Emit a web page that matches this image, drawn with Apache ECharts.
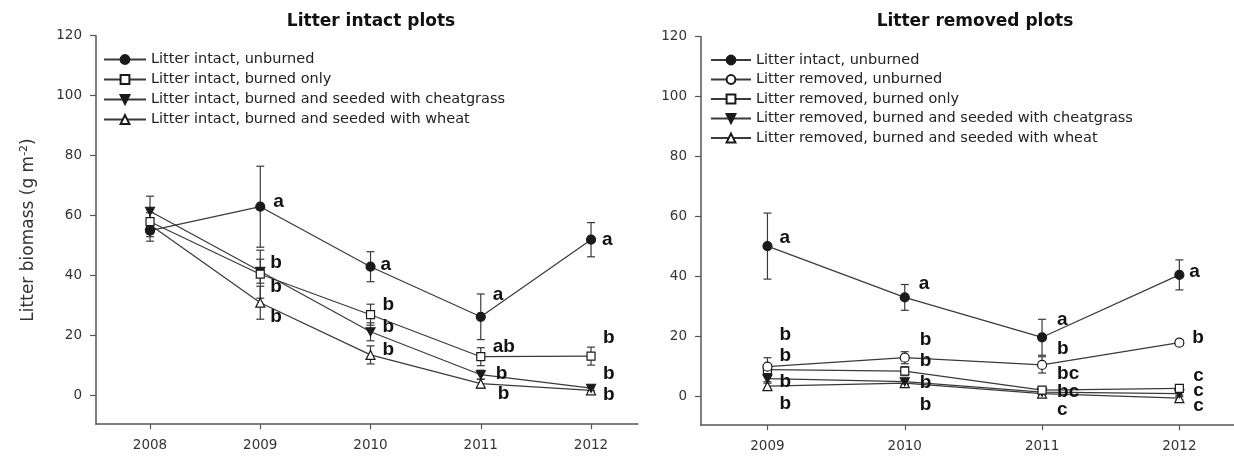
<!DOCTYPE html>
<html>
<head>
<meta charset="utf-8">
<script src="https://cdn.jsdelivr.net/npm/echarts@6/dist/echarts.min.js"></script>
<style>
  html, body { margin: 0; padding: 0; background: #fff; }
  #chart { width: 1234px; height: 463px; }
</style>
</head>
<body>
<div id="chart"></div>
<script>
// ---- Data -------------------------------------------------------------
// Litter intact plots (2008-2012)
const yearsIntact = [2008, 2009, 2010, 2011, 2012];
const intactUnburned    = [55, 63, 43, 26.3, 52];
const intactUnburnedSE  = [3.5, 13.5, 5, 7.6, 5.7];
const intactBurned      = [58, 40.5, 27, 13, 13.2];
const intactBurnedSE    = [4, 8, 3.5, 3, 3];
const intactCheat       = [61.5, 41.5, 21.3, 7, 2.5];
const intactCheatSE     = [5, 4, 3, 1.5, 0.8];
const intactWheat       = [57, 31, 13.6, 4, 1.8];
const intactWheatSE     = [4, 5.5, 3, 1.5, 0.8];
const intactUnburnedSig = ['', 'a', 'a', 'a', 'a'];
const intactBurnedSig   = ['', 'b', 'b', 'ab', 'b'];
const intactCheatSig    = ['', 'b', 'b', 'b', 'b'];
const intactWheatSig    = ['', 'b', 'b', 'b', 'b'];

// Litter removed plots (2009-2012)
const yearsRemoved = [2009, 2010, 2011, 2012];
const refUnburned       = [50.2, 33.1, 19.8, 40.6];
const refUnburnedSE     = [11, 4.3, 6, 5];
const remUnburned       = [10, 13, 10.6, 18];
const remUnburnedSE     = [3, 2, 2.7, 1];
const remBurned         = [9, 8.5, 2.2, 2.8];
const remBurnedSE       = [1.5, 1.5, 1, 1];
const remCheat          = [6, 5, 1.5, 1];
const remCheatSE        = [1, 1, 0.5, 0.5];
const remWheat          = [3.5, 4.5, 1, -0.5];
const remWheatSE        = [1, 1, 0.5, 0.5];
const refUnburnedSig    = ['a', 'a', 'a', 'a'];
const remUnburnedSig    = ['b', 'b', 'b', 'b'];
const remBurnedSig      = ['b', 'b', 'bc', 'c'];
const remCheatSig       = ['b', 'b', 'bc', 'c'];
const remWheatSig       = ['b', 'b', 'c', 'c'];

const yTicks = [0, 20, 40, 60, 80, 100, 120];

const NAMES = {
  intactUnburned: 'Litter intact, unburned',
  intactBurned: 'Litter intact, burned only',
  intactCheat: 'Litter intact, burned and seeded with cheatgrass',
  intactWheat: 'Litter intact, burned and seeded with wheat',
  remUnburned: 'Litter removed, unburned',
  remBurned: 'Litter removed, burned only',
  remCheat: 'Litter removed, burned and seeded with cheatgrass',
  remWheat: 'Litter removed, burned and seeded with wheat'
};

// ---- Layout: pixel nudges for the significance letters ----------------
const nudge = {
  intactUnburned: [null, [13, -5], [10, -2], [12, -22], [11, 0]],
  intactBurned:   [null, [10, -11], [12, -10], [12, -10], [12, -18]],
  intactCheat:    [null, [10, 16], [12, -5], [15, -1], [12, -14]],
  intactWheat:    [null, [10, 14], [12, -5], [17, 10], [12, 4]],
  refUnburned:    [[12, -8], [14, -14], [15, -18], [10, -3]],
  remUnburned:    [[12, -32], [15, -18], [15, -16], [13, -5]],
  remBurned:      [[12, -14], [15, -10], [15, -16], [14, -13]],
  remCheat:       [[12, 3], [15, 1], [15, 0], [14, -3]],
  remWheat:       [[12, 18], [15, 22], [15, 16], [14, 8]]
};

// ---- Marker styles ----------------------------------------------------
const INK = '#1a1a1a';
const LINE = '#3a3a3a';
const marks = {
  filledCircle: { symbol: 'circle', size: 9, fill: INK },
  openCircle:   { symbol: 'circle', size: 9, fill: '#fff' },
  openSquare:   { symbol: 'rect', size: 8, fill: '#fff' },
  filledDown:   { symbol: 'path://M0,0L10,0L5,9Z', size: [9, 8], fill: INK },
  openUp:       { symbol: 'triangle', size: 9, fill: '#fff' }
};

function lineSeries(name, xs, vals, sig, nudges, gi, mark) {
  return {
    name: name,
    type: 'line',
    xAxisIndex: gi,
    yAxisIndex: gi,
    z: 3,
    symbol: mark.symbol,
    symbolSize: mark.size,
    showAllSymbol: true,
    lineStyle: { color: LINE, width: 1.2 },
    itemStyle: { color: mark.fill, borderColor: INK, borderWidth: 1.2 },
    label: {
      show: true,
      position: 'inside',
      align: 'left',
      verticalAlign: 'middle',
      fontFamily: 'Liberation Sans, Arial, sans-serif',
      fontWeight: 'bold',
      fontSize: 19,
      color: '#111'
    },
    emphasis: { disabled: true },
    data: xs.map(function (x, i) {
      return {
        value: [x, vals[i]],
        label: sig[i] ? { formatter: sig[i], offset: nudges[i] } : { show: false }
      };
    })
  };
}

function errorSeries(xs, vals, errs, gi) {
  return {
    type: 'custom',
    xAxisIndex: gi,
    yAxisIndex: gi,
    z: 1,
    silent: true,
    encode: { x: 0, y: 1 },
    data: xs.map(function (x, i) { return [x, vals[i], errs[i]]; }),
    renderItem: function (params, api) {
      const x = api.value(0), y = api.value(1), e = api.value(2);
      const hi = api.coord([x, y + e]);
      const lo = api.coord([x, y - e]);
      const cap = 4;
      const st = { stroke: LINE, lineWidth: 1.2 };
      return {
        type: 'group',
        children: [
          { type: 'line', shape: { x1: hi[0], y1: hi[1], x2: lo[0], y2: lo[1] }, style: st },
          { type: 'line', shape: { x1: hi[0] - cap, y1: hi[1], x2: hi[0] + cap, y2: hi[1] }, style: st },
          { type: 'line', shape: { x1: lo[0] - cap, y1: lo[1], x2: lo[0] + cap, y2: lo[1] }, style: st }
        ]
      };
    }
  };
}

const AXIS_COLOR = '#555';
const TICK_FONT = { fontFamily: 'DejaVu Sans, sans-serif', fontSize: 13.5, color: '#333' };

function xAxisFor(gi, years, min, max) {
  return {
    type: 'value', gridIndex: gi, min: min, max: max,
    axisLine: { show: true, onZero: false, lineStyle: { color: AXIS_COLOR, width: 1.5 } },
    axisTick: { show: true, customValues: years, length: 5, lineStyle: { color: AXIS_COLOR, width: 1.2 } },
    axisLabel: Object.assign({ customValues: years, margin: 14, formatter: function (v) { return String(v); } }, TICK_FONT),
    splitLine: { show: false }
  };
}

function yAxisFor(gi, withName) {
  const ax = {
    type: 'value', gridIndex: gi, min: -9.5, max: 120,
    axisLine: { show: true, onZero: false, lineStyle: { color: AXIS_COLOR, width: 1.5 } },
    axisTick: { show: true, customValues: yTicks, length: 6, lineStyle: { color: AXIS_COLOR, width: 1.2 } },
    axisLabel: Object.assign({ customValues: yTicks, margin: 14 }, TICK_FONT),
    splitLine: { show: false }
  };
  if (withName) {
    ax.name = 'Litter biomass (g m{sup|-2})';
    ax.nameLocation = 'middle';
    ax.nameGap = 57;
    ax.nameTextStyle = {
      fontFamily: 'DejaVu Sans, sans-serif', fontSize: 17, color: '#333',
      rich: { sup: { fontFamily: 'DejaVu Sans, sans-serif', fontSize: 11, color: '#333', verticalAlign: 'top', padding: [0, 0, 9, 0] } }
    };
  }
  return ax;
}

const legendText = { fontFamily: 'DejaVu Sans, sans-serif', fontSize: 14.5, color: '#222' };

const option = {
  backgroundColor: '#fff',
  animation: false,
  title: [
    { text: 'Litter intact plots', left: 371, top: 13, padding: 0, textAlign: 'center',
      textStyle: { fontFamily: 'DejaVu Sans, sans-serif', fontWeight: 'bold', fontSize: 17, color: '#111' } },
    { text: 'Litter removed plots', left: 975, top: 13, padding: 0, textAlign: 'center',
      textStyle: { fontFamily: 'DejaVu Sans, sans-serif', fontWeight: 'bold', fontSize: 17, color: '#111' } }
  ],
  legend: [
    { orient: 'vertical', left: 103, top: 52, padding: 0, itemWidth: 42, itemHeight: 11, itemGap: 5,
      selectedMode: false, textStyle: legendText,
      data: [NAMES.intactUnburned, NAMES.intactBurned, NAMES.intactCheat, NAMES.intactWheat] },
    { orient: 'vertical', left: 710, top: 52.5, padding: 0, itemWidth: 40, itemHeight: 11, itemGap: 4.5,
      selectedMode: false, textStyle: legendText,
      data: [NAMES.intactUnburned, NAMES.remUnburned, NAMES.remBurned, NAMES.remCheat, NAMES.remWheat] }
  ],
  grid: [
    { left: 96, top: 35.7, width: 542, height: 388.5, containLabel: false },
    { left: 701, top: 36.7, width: 537, height: 388.5, containLabel: false }
  ],
  xAxis: [
    xAxisFor(0, yearsIntact, 2007.51, 2012.426),
    xAxisFor(1, yearsRemoved, 2008.516, 2012.398)
  ],
  yAxis: [yAxisFor(0, true), yAxisFor(1, false)],
  series: [
    errorSeries(yearsIntact, intactUnburned, intactUnburnedSE, 0),
    errorSeries(yearsIntact, intactBurned, intactBurnedSE, 0),
    errorSeries(yearsIntact, intactCheat, intactCheatSE, 0),
    errorSeries(yearsIntact, intactWheat, intactWheatSE, 0),
    lineSeries(NAMES.intactWheat, yearsIntact, intactWheat, intactWheatSig, nudge.intactWheat, 0, marks.openUp),
    lineSeries(NAMES.intactCheat, yearsIntact, intactCheat, intactCheatSig, nudge.intactCheat, 0, marks.filledDown),
    lineSeries(NAMES.intactBurned, yearsIntact, intactBurned, intactBurnedSig, nudge.intactBurned, 0, marks.openSquare),
    lineSeries(NAMES.intactUnburned, yearsIntact, intactUnburned, intactUnburnedSig, nudge.intactUnburned, 0, marks.filledCircle),

    errorSeries(yearsRemoved, refUnburned, refUnburnedSE, 1),
    errorSeries(yearsRemoved, remUnburned, remUnburnedSE, 1),
    errorSeries(yearsRemoved, remBurned, remBurnedSE, 1),
    errorSeries(yearsRemoved, remCheat, remCheatSE, 1),
    errorSeries(yearsRemoved, remWheat, remWheatSE, 1),
    lineSeries(NAMES.remWheat, yearsRemoved, remWheat, remWheatSig, nudge.remWheat, 1, marks.openUp),
    lineSeries(NAMES.remCheat, yearsRemoved, remCheat, remCheatSig, nudge.remCheat, 1, marks.filledDown),
    lineSeries(NAMES.remBurned, yearsRemoved, remBurned, remBurnedSig, nudge.remBurned, 1, marks.openSquare),
    lineSeries(NAMES.remUnburned, yearsRemoved, remUnburned, remUnburnedSig, nudge.remUnburned, 1, marks.openCircle),
    lineSeries(NAMES.intactUnburned, yearsRemoved, refUnburned, refUnburnedSig, nudge.refUnburned, 1, marks.filledCircle)
  ]
};

const chart = echarts.init(document.getElementById('chart'), null, { renderer: 'canvas' });
chart.setOption(option);
</script>
</body>
</html>
